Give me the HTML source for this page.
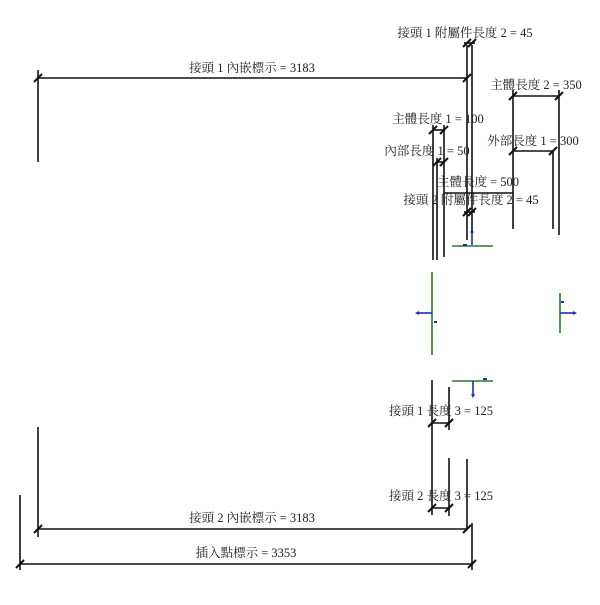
<!DOCTYPE html>
<html><head><meta charset="utf-8"><style>
body{margin:0;background:#fff}
svg text{font-family:"Liberation Serif","Noto Serif CJK SC","Noto Sans CJK TC",serif;font-size:12.5px;fill:#222;text-anchor:middle}
</style></head><body>
<svg width="600" height="600" viewBox="0 0 600 600" xmlns="http://www.w3.org/2000/svg">
<g stroke="#111" stroke-width="1.6" fill="none">
<line x1="38" y1="78" x2="467" y2="78"/><line x1="38" y1="70" x2="38" y2="162"/>
<line x1="467" y1="45" x2="467" y2="240"/><line x1="472" y1="45" x2="472" y2="232"/>
<line x1="464" y1="43" x2="475" y2="43"/>
<line x1="464" y1="212" x2="475" y2="212"/>
<line x1="513" y1="96" x2="559" y2="96"/><line x1="513" y1="90" x2="513" y2="229"/><line x1="559" y1="90" x2="559" y2="235"/>
<line x1="513" y1="151" x2="553" y2="151"/><line x1="553" y1="151" x2="553" y2="229"/>
<line x1="433" y1="130" x2="444" y2="130"/><line x1="433" y1="125" x2="433" y2="260"/>
<line x1="444" y1="125" x2="444" y2="257"/>
<line x1="437" y1="162" x2="444" y2="162"/><line x1="437" y1="158" x2="437" y2="260"/>
<line x1="444" y1="193" x2="513" y2="193"/>
<line x1="432" y1="380" x2="432" y2="515"/>
<line x1="449" y1="387" x2="449" y2="430"/><line x1="449" y1="458" x2="449" y2="516"/>
<line x1="467" y1="459" x2="467" y2="530"/>
<line x1="432" y1="423" x2="449" y2="423"/><line x1="432" y1="508" x2="449" y2="508"/>
<line x1="38" y1="529" x2="467" y2="529"/><line x1="38" y1="427" x2="38" y2="537"/>
<line x1="20" y1="564" x2="472" y2="564"/><line x1="20" y1="495" x2="20" y2="570"/><line x1="472" y1="523" x2="472" y2="570"/>
<g stroke-width="2">
<path d="M34 82L42 74M463 82L471 74M463 47L471 39M468 47L476 39M463 216L471 208M468 216L476 208
M509 100L517 92M555 100L563 92M509 155L517 147M549 155L557 147
M429 134L437 126M440 134L448 126M433 166L441 158M440 166L448 158
M428 427L436 419M445 427L453 419M428 512L436 504M445 512L453 504
M34 533L42 525M463 533L471 525M16 568L24 560M468 568L476 560"/>
</g>
</g>
<g stroke-width="1.6" fill="none">
<line x1="432" y1="272" x2="432" y2="355" stroke="#2a7a2a"/>
<line x1="560" y1="293" x2="560" y2="333" stroke="#2a7a2a"/>
<line x1="452" y1="246" x2="493" y2="246" stroke="#2a7a2a"/>
<line x1="452" y1="381" x2="493" y2="381" stroke="#2a7a2a"/>
<line x1="472" y1="232" x2="472" y2="245" stroke="#1a2fb0"/>
<line x1="418" y1="313" x2="432" y2="313" stroke="#1a2fb0"/>
<line x1="560" y1="313" x2="574" y2="313" stroke="#1a2fb0"/>
<line x1="473" y1="381" x2="473" y2="394" stroke="#1a2fb0"/>
</g>
<g fill="#1a2fb0">
<path d="M415 313l4-2v4z"/><path d="M577 313l-4-2v4z"/><path d="M473 398l-2-4h4z"/>
<circle cx="472" cy="232" r="1.5"/>
<rect x="434" y="321" width="3" height="2"/><rect x="561" y="301" width="3" height="2"/><rect x="483" y="378" width="4" height="2"/><rect x="463" y="244" width="4" height="2"/>
</g>
<g>
<text x="465" y="37">接頭 1 附屬件長度 2 = 45</text>
<text x="252" y="72">接頭 1 內嵌標示 = 3183</text>
<text x="536" y="89">主體長度 2 = 350</text>
<text x="438" y="123">主體長度 1 = 100</text>
<text x="533" y="145">外部長度 1 = 300</text>
<text x="427" y="155">內部長度 1 = 50</text>
<text x="478" y="186">主體長度 = 500</text>
<text x="471" y="204">接頭 2 附屬件長度 2 = 45</text>
<text x="441" y="415">接頭 1 長度 3 = 125</text>
<text x="441" y="500">接頭 2 長度 3 = 125</text>
<text x="252" y="522">接頭 2 內嵌標示 = 3183</text>
<text x="246" y="557">插入點標示 = 3353</text>
</g>
</svg>
</body></html>
